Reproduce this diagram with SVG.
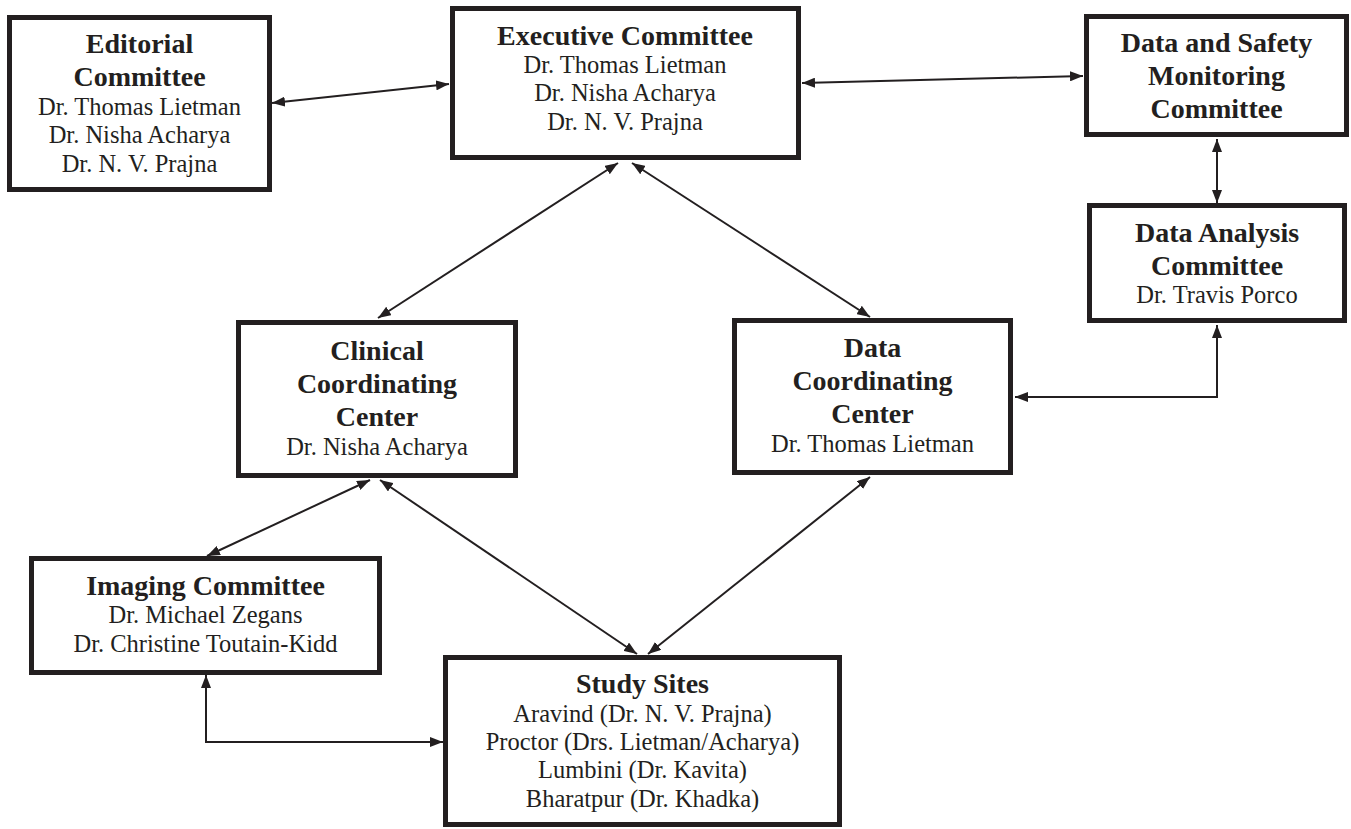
<svg xmlns="http://www.w3.org/2000/svg" width="1351" height="829" viewBox="0 0 1351 829">
<defs>
<marker id="ah" viewBox="0 0 13 10" refX="13" refY="5" markerWidth="13" markerHeight="10" markerUnits="userSpaceOnUse" orient="auto-start-reverse">
<path d="M0,0 L13,5 L0,10 z" fill="#231f20"/>
</marker>
<style>
.box{fill:#fff;stroke:#231f20;stroke-width:5}
.t{font-family:"Liberation Serif","Times New Roman",serif;font-weight:bold;font-size:28px;fill:#231f20;text-anchor:middle}
.n{font-family:"Liberation Serif","Times New Roman",serif;font-size:24.5px;fill:#231f20;text-anchor:middle}
.c{fill:none;stroke:#231f20;stroke-width:2;marker-start:url(#ah);marker-end:url(#ah)}
</style>
</defs>
<rect width="1351" height="829" fill="#fff"/>
<g id="connectors">
<line class="c" x1="272" y1="103" x2="449" y2="84"/>
<line class="c" x1="802" y1="83" x2="1083" y2="76"/>
<line class="c" x1="618" y1="163" x2="378" y2="318"/>
<line class="c" x1="632" y1="163" x2="870" y2="317"/>
<line class="c" x1="1217" y1="139" x2="1217" y2="203"/>
<polyline class="c" points="1217,325 1217,397 1015,397"/>
<line class="c" x1="370" y1="480" x2="207" y2="556"/>
<line class="c" x1="380" y1="480" x2="637" y2="654"/>
<line class="c" x1="870" y1="477" x2="648" y2="654"/>
<polyline class="c" points="206,675 206,742 443,742"/>
</g>
<g id="editorial">
<rect class="box" x="9.5" y="17.5" width="260" height="172"/>
<text class="t" x="139.5" y="53">Editorial</text>
<text class="t" x="139.5" y="86">Committee</text>
<text class="n" x="139.5" y="115">Dr. Thomas Lietman</text>
<text class="n" x="139.5" y="143">Dr. Nisha Acharya</text>
<text class="n" x="139.5" y="172">Dr. N. V. Prajna</text>
</g>
<g id="executive">
<rect class="box" x="452.5" y="8.5" width="346" height="149"/>
<text class="t" x="625" y="45">Executive Committee</text>
<text class="n" x="625" y="73">Dr. Thomas Lietman</text>
<text class="n" x="625" y="101">Dr. Nisha Acharya</text>
<text class="n" x="625" y="130">Dr. N. V. Prajna</text>
</g>
<g id="dsmc">
<rect class="box" x="1086.5" y="16.5" width="260" height="118"/>
<text class="t" x="1216.5" y="52">Data and Safety</text>
<text class="t" x="1216.5" y="85">Monitoring</text>
<text class="t" x="1216.5" y="118">Committee</text>
</g>
<g id="dac">
<rect class="box" x="1089.5" y="205.5" width="255" height="115"/>
<text class="t" x="1217" y="242">Data Analysis</text>
<text class="t" x="1217" y="275">Committee</text>
<text class="n" x="1217" y="303">Dr. Travis Porco</text>
</g>
<g id="dcc">
<rect class="box" x="734.5" y="320.5" width="276" height="152"/>
<text class="t" x="872.5" y="357">Data</text>
<text class="t" x="872.5" y="390">Coordinating</text>
<text class="t" x="872.5" y="423">Center</text>
<text class="n" x="872.5" y="452">Dr. Thomas Lietman</text>
</g>
<g id="ccc">
<rect class="box" x="238.5" y="322.5" width="277" height="153"/>
<text class="t" x="377" y="360">Clinical</text>
<text class="t" x="377" y="393">Coordinating</text>
<text class="t" x="377" y="426">Center</text>
<text class="n" x="377" y="455">Dr. Nisha Acharya</text>
</g>
<g id="imaging">
<rect class="box" x="31.5" y="558.5" width="348" height="114"/>
<text class="t" x="205.5" y="595">Imaging Committee</text>
<text class="n" x="205.5" y="623">Dr. Michael Zegans</text>
<text class="n" x="205.5" y="652">Dr. Christine Toutain-Kidd</text>
</g>
<g id="study">
<rect class="box" x="445.5" y="657.5" width="394" height="167"/>
<text class="t" x="642.5" y="693">Study Sites</text>
<text class="n" x="642.5" y="722">Aravind (Dr. N. V. Prajna)</text>
<text class="n" x="642.5" y="750">Proctor (Drs. Lietman/Acharya)</text>
<text class="n" x="642.5" y="778">Lumbini (Dr. Kavita)</text>
<text class="n" x="642.5" y="807">Bharatpur (Dr. Khadka)</text>
</g>
</svg>
